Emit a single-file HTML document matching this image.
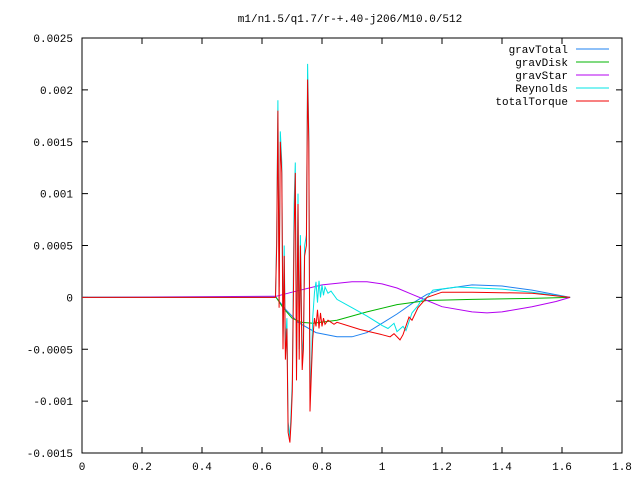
<!DOCTYPE html>
<html><head><meta charset="utf-8"><style>
body{margin:0;background:#fff}
svg text{font-family:"Liberation Mono",monospace;font-size:11px;fill:#000}
</style></head><body>
<svg id="chart" width="640" height="480" xmlns="http://www.w3.org/2000/svg">
<rect width="640" height="480" fill="#fff"/>
<text x="350" y="22" text-anchor="middle">m1/n1.5/q1.7/r-+.40-j206/M10.0/512</text>
<g id="axes"></g>
<g id="series"></g>
<g id="legend"></g>
</svg>
<script>
const xTicks=[0,0.2,0.4,0.6,0.8,1,1.2,1.4,1.6,1.8];
const xTickLabels=["0","0.2","0.4","0.6","0.8","1","1.2","1.4","1.6","1.8"];
const yTicks=[0.0025,0.002,0.0015,0.001,0.0005,0,-0.0005,-0.001,-0.0015];
const yTickLabels=["0.0025","0.002","0.0015","0.001","0.0005","0","-0.0005","-0.001","-0.0015"];
const seriesNames=["gravTotal","gravDisk","gravStar","Reynolds","totalTorque"];
const gravTotalX=[0,0.647,0.68,0.72,0.78,0.85,0.9,0.95,1.0,1.05,1.1,1.15,1.2,1.3,1.4,1.5,1.627];
const gravTotalY=[0,0,-0.00012,-0.00024,-0.00034,-0.00038,-0.00038,-0.00034,-0.00025,-0.00016,-0.00006,0.00003,0.00008,0.00012,0.00011,0.00007,0];
const gravDiskX=[0,0.647,0.67,0.7,0.73,0.77,0.85,0.95,1.05,1.15,1.3,1.5,1.627];
const gravDiskY=[0,0,-0.0001,-0.0002,-0.00024,-0.00025,-0.00022,-0.00014,-0.00007,-0.00003,-0.00002,-0.00001,0];
const gravStarX=[0,0.647,0.7,0.8,0.9,0.95,1.0,1.05,1.1,1.15,1.2,1.3,1.35,1.4,1.5,1.58,1.627];
const gravStarY=[0,0.00001,0.00005,0.00012,0.00015,0.00015,0.00013,0.00009,0.00003,-0.00003,-0.00009,-0.00014,-0.00015,-0.00014,-0.00009,-0.00004,0];
const reynoldsX=[0,0.645,0.649,0.653,0.657,0.661,0.666,0.670,0.674,0.678,0.683,0.687,0.693,0.697,0.701,0.707,0.711,0.715,0.720,0.724,0.728,0.734,0.738,0.742,0.748,0.752,0.756,0.760,0.765,0.769,0.775,0.78,0.785,0.79,0.795,0.80,0.805,0.81,0.82,0.83,0.85,0.9,0.95,1.0,1.02,1.04,1.05,1.07,1.08,1.1,1.12,1.13,1.15,1.17,1.25,1.4,1.5,1.627];
const reynoldsY=[0,0,0.0006,0.0019,0.0001,0.0016,0.0013,-0.0004,0.0005,-0.0005,-0.0002,-0.0012,-0.00135,-0.0011,-0.0008,0.0009,0.0013,-0.0007,0.0010,-0.0005,0.0006,-0.0006,-0.0004,0.0005,0.0006,0.00225,0.0016,-0.0010,-0.0006,-0.0002,0.00005,0.00015,-0.00005,0.00016,0.0,0.00012,0.00002,0.0001,0.00004,0.00006,-0.00002,-0.0001,-0.00018,-0.00027,-0.0003,-0.00025,-0.00033,-0.00028,-0.00032,-0.00015,-0.00008,-0.00003,0.0,0.00007,0.0001,0.00008,0.00005,0];
const totalX=[0,0.645,0.649,0.653,0.657,0.661,0.666,0.670,0.674,0.678,0.683,0.687,0.693,0.697,0.701,0.707,0.711,0.715,0.720,0.724,0.728,0.734,0.738,0.742,0.748,0.752,0.756,0.760,0.765,0.769,0.775,0.78,0.785,0.79,0.795,0.80,0.805,0.81,0.82,0.84,0.85,0.927,1.0,1.027,1.04,1.06,1.07,1.09,1.1,1.12,1.15,1.2,1.3,1.5,1.627];
const totalY=[0,0,0.0005,0.0018,-0.0001,0.0015,0.0012,-0.0005,0.0004,-0.0006,-0.0003,-0.0013,-0.0014,-0.0012,-0.0009,0.0006,0.0012,-0.0008,0.0009,-0.0006,0.0005,-0.0007,-0.0005,0.0004,0.0005,0.0021,0.0015,-0.0011,-0.0007,-0.0004,-0.0002,-0.00028,-0.00012,-0.0003,-0.00015,-0.00028,-0.0002,-0.00026,-0.00022,-0.00026,-0.00024,-0.00031,-0.00036,-0.00038,-0.00035,-0.00041,-0.00036,-0.00019,-0.00022,-0.0001,0.0,0.00005,0.00005,0.00004,0];
const colors=["#1e82f0","#00b400","#b400f0","#00e4e4","#f00000"];

const L=82,R=622,T=38,B=453;
const sx=v=>L+(v-0)/1.8*(R-L);
const sy=v=>T+(0.0025-v)/0.004*(B-T);
const NS="http://www.w3.org/2000/svg";
function mk(tag,attrs,parent){const e=document.createElementNS(NS,tag);for(const k in attrs)e.setAttribute(k,attrs[k]);parent.appendChild(e);return e;}
const axes=document.getElementById('axes');
const frame=mk('rect',{x:L,y:T,width:R-L,height:B-T,fill:'none',stroke:'#000','stroke-width':1},axes);


xTicks.forEach((v,i)=>{
  const x=sx(v);
  const t=mk('path',{d:`M${x} ${B}v-6M${x} ${T}v6`,stroke:'#000'},axes);
  
  
  const lb=mk('text',{x:x,y:B+17,'text-anchor':'middle'},axes);lb.textContent=xTickLabels[i];
  
  
});
yTicks.forEach((v,i)=>{
  const y=sy(v);
  const t=mk('path',{d:`M${L} ${y}h6M${R} ${y}h-6`,stroke:'#000'},axes);
  
  
  const lb=mk('text',{x:73,y:y+4,'text-anchor':'end'},axes);lb.textContent=yTickLabels[i];
  
  
});
const sg=document.getElementById('series');
const data=[[gravTotalX,gravTotalY],[gravDiskX,gravDiskY],[gravStarX,gravStarY],[reynoldsX,reynoldsY],[totalX,totalY]];
data.forEach((d,i)=>{
  const pts=d[0].map((x,j)=>sx(x).toFixed(1)+','+sy(d[1][j]).toFixed(1)).join(' ');
  const p=mk('polyline',{points:pts,fill:'none',stroke:colors[i],'stroke-width':1},sg);
  
  
});
const lg=document.getElementById('legend');
seriesNames.forEach((n,i)=>{
  const y=49+i*13;
  const t=mk('text',{x:568,y:y+4,'text-anchor':'end'},lg);t.textContent=n;
  
  
  const l=mk('line',{x1:576,x2:609,y1:y,y2:y,stroke:colors[i]},lg);
  
  
});
</script>
</body></html>
